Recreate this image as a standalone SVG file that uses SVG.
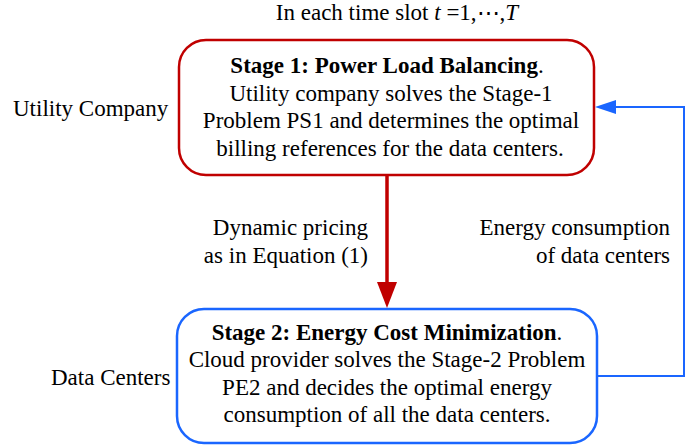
<svg xmlns="http://www.w3.org/2000/svg" width="699" height="447" viewBox="0 0 699 447">
<style>
text{font-family:"Liberation Serif","Times New Roman",serif;font-size:23px;fill:#000}
.c{text-anchor:middle}
.e{text-anchor:end}
.b{font-weight:bold}
.red{fill:none;stroke:#c00000;stroke-width:2.5}
.blue{fill:none;stroke:#1a66ff;stroke-width:2.5}
</style>
<text class="c" x="397" y="20">In each time slot <tspan font-style="italic">t</tspan> =1,⋯,<tspan font-style="italic">T</tspan></text>
<g id="utility-label"><text x="13" y="116">Utility Company</text></g>
<g id="dc-label"><text x="51" y="385">Data Centers</text></g>
<g id="stage1">
<rect class="red" x="179" y="40" width="415" height="135" rx="27"/>
<text class="c" x="387" y="73"><tspan class="b">Stage 1: Power Load Balancing</tspan>.</text>
<text class="c" x="391" y="101">Utility company solves the Stage-1</text>
<text class="c" x="391" y="128">Problem PS1 and determines the optimal</text>
<text class="c" x="390" y="156">billing references for the data centers.</text>
</g>
<g id="stage2">
<rect class="blue" x="177" y="309" width="420" height="134" rx="27"/>
<text class="c" x="387" y="340"><tspan class="b">Stage 2: Energy Cost Minimization</tspan>.</text>
<text class="c" x="387" y="367">Cloud provider solves the Stage-2 Problem</text>
<text class="c" x="387" y="395">PE2 and decides the optimal energy</text>
<text class="c" x="387" y="422">consumption of all the data centers.</text>
</g>
<g id="connectors">
<line x1="387" y1="175" x2="387" y2="282" stroke="#c00000" stroke-width="3.5"/>
<path d="M377,282 L397,282 L387,308 Z" fill="#c00000"/>
<polyline points="597,376 684,376 684,107 612,107" fill="none" stroke="#1a66ff" stroke-width="2"/>
<path d="M595,107 L616,100 L616,114 Z" fill="#1a66ff"/>
<text class="e" x="368" y="235">Dynamic pricing</text>
<text class="e" x="368" y="263">as in Equation (1)</text>
<text class="e" x="670" y="235">Energy consumption</text>
<text class="e" x="670" y="263">of data centers</text>
</g>
</svg>
